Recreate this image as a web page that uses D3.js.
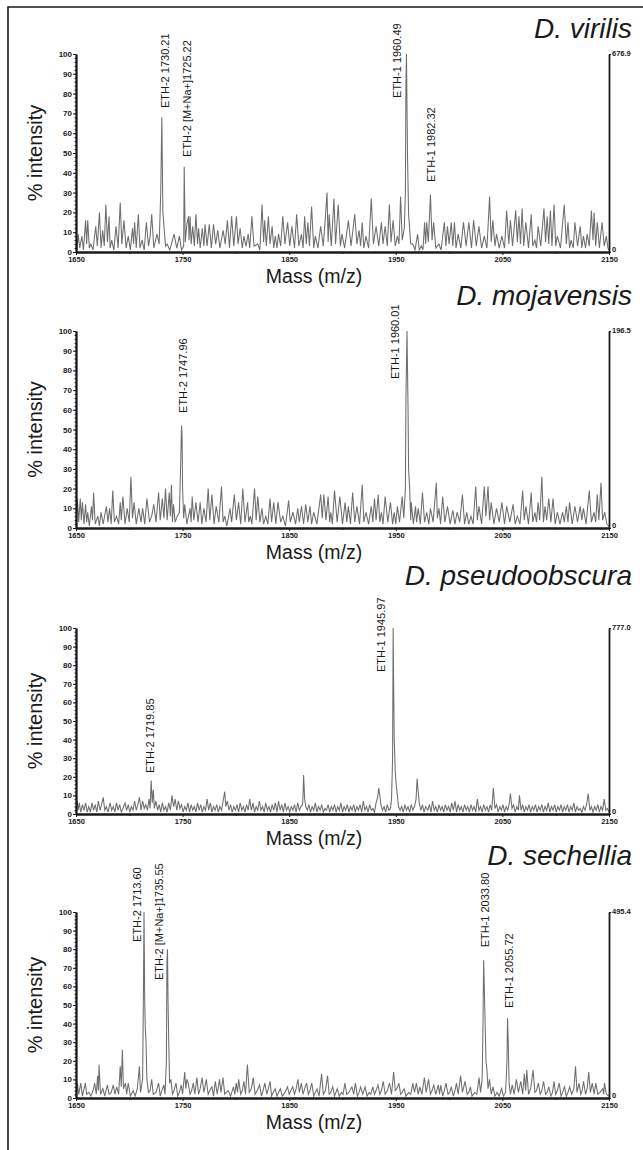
<!DOCTYPE html>
<html>
    <head>
        <meta charset="utf-8">
        <title>ETH spectra</title>
        <script src="https://d3js.org/d3.v7.min.js"></script>
        <style>
            body { margin: 0; background: white; }
        </style>
    </head>
    <body>
    <script type="text/javascript">
    //species names and base peak counts shown on the right axis
    var species = ["D. virilis", "D. mojavensis", "D. pseudoobscura", "D. sechellia"];
    var baseCounts = ["676.9", "196.5", "777.0", "495.4"];
    var massTicks = [1650, 1750, 1850, 1950, 2050, 2150];
    var massMinor = [1700, 1800, 1900, 2000, 2100];
    var pctTicks = [0, 10, 20, 30, 40, 50, 60, 70, 80, 90, 100];

    //spectra, [m/z, % intensity]
    var virilis = [[1650,3],[1651,1],[1652,9],[1653.5,2],[1655.5,8],[1657,1],[1659,16],[1660,4],[1661,16],[1662.5,2],[1664,4],[1666,1],[1668.5,13],[1670,3],[1672,20],[1673.5,2],[1675,11],[1676.5,3],[1678,24],[1679.5,5],[1681,18],[1682,2],[1683.5,6],[1685.5,1],[1687.5,13],[1689.5,2],[1691.5,25],[1693,4],[1695,16],[1697,2],[1699,8],[1701,1],[1703,12],[1704,4],[1705,15],[1706.5,2],[1708.5,19],[1710,2],[1712,6],[1714,1],[1716,15],[1718,3],[1719.5,8],[1721,19],[1723,2],[1726,9],[1728,4],[1729.5,30],[1730.5,68],[1731.5,20],[1732.5,13],[1734,3],[1735.5,4],[1738,1],[1740,5],[1742,9],[1744.5,2],[1747,8],[1749,1],[1751,3],[1751.5,43],[1752.5,5],[1754,14],[1755.5,18],[1756,6],[1757,18],[1758,4],[1759.5,13],[1761,3],[1762.5,19],[1764,4],[1765,12],[1766.5,2],[1768.5,12],[1770,3],[1771,14],[1773,3],[1775,14],[1777,2],[1779,14],[1781,4],[1783,11],[1785,2],[1788,11],[1790,4],[1792,16],[1794,2],[1796,18],[1798,3],[1800.5,18],[1802,4],[1804,12],[1806,2],[1807.5,8],[1809.5,3],[1811.5,9],[1813,2],[1815,18],[1817,3],[1820.5,4],[1822.5,1],[1824.5,24],[1826,5],[1827,16],[1828.5,3],[1830.5,18],[1832,4],[1834,13],[1835.5,2],[1837,8],[1838.5,2],[1840,9],[1842,3],[1844,18],[1846,4],[1848.5,15],[1850.5,3],[1852.5,13],[1855,2],[1857,19],[1859,3],[1861.5,9],[1863,2],[1864.5,18],[1866,4],[1867.5,15],[1869,3],[1871,23],[1873,2],[1874.5,8],[1877,2],[1879.5,13],[1882,3],[1885.5,30],[1886.5,5],[1887.5,19],[1889.5,3],[1892,27],[1893.5,4],[1896,24],[1898,3],[1899.5,9],[1902,2],[1905.5,16],[1908,3],[1911.5,19],[1913.5,4],[1915.5,11],[1917,3],[1918.5,15],[1920,2],[1922,8],[1924.5,2],[1927,27],[1929,4],[1931.5,13],[1934,3],[1936.5,15],[1938,4],[1940,13],[1942,3],[1944,24],[1945.5,5],[1947.5,16],[1949.5,3],[1951.5,8],[1953,4],[1954.5,28],[1956,6],[1958,12],[1959,30],[1959.5,85],[1960,100],[1961,48],[1962,19],[1964,4],[1966,4],[1968,1],[1970.5,9],[1972,1],[1974,3],[1975.5,1],[1977,15],[1978,4],[1979,15],[1980.5,5],[1982.5,29],[1984,6],[1985.5,15],[1987.5,2],[1990.5,4],[1992.5,1],[1995.5,15],[1997,3],[1998.5,13],[2000,4],[2002,15],[2003.5,3],[2005,15],[2006.5,2],[2008.5,9],[2011,2],[2013.5,15],[2016,3],[2018.5,15],[2021,2],[2023,16],[2025.5,3],[2028,13],[2030.5,2],[2033,8],[2035.5,2],[2038,28],[2039.5,5],[2041,16],[2043,3],[2044.5,9],[2047,2],[2049.5,8],[2052,2],[2054,21],[2056,4],[2057.5,16],[2059.5,3],[2062.5,21],[2064,5],[2065.5,18],[2067,4],[2068.5,22],[2070,3],[2072,15],[2074.5,2],[2077,19],[2078.5,3],[2080.5,6],[2082,2],[2083.5,13],[2086,3],[2089,22],[2090.5,5],[2092,18],[2093.5,4],[2095,21],[2096.5,3],[2098.5,24],[2100,3],[2101.5,8],[2104.5,2],[2108,24],[2110,4],[2111.5,15],[2113,2],[2114.5,6],[2116.5,2],[2118,15],[2120.5,3],[2123,13],[2124.5,2],[2126,8],[2128,2],[2129.5,9],[2131.5,3],[2133.5,21],[2135,6],[2136,20],[2137.5,3],[2139,15],[2141,2],[2143.5,15],[2145.5,3],[2147.5,8],[2149,2],[2150,1]];

    var mojavensis = [[1650,2],[1651.3,15],[1652.5,3],[1654,15],[1655,4],[1656,13],[1657.5,2],[1659,12],[1660,3],[1661,8],[1662.5,1],[1664.5,11],[1665.5,4],[1666.5,18],[1668,2],[1670.5,6],[1672,1],[1673.5,8],[1675.5,2],[1678.5,11],[1680,3],[1681.5,10],[1683,2],[1684.5,19],[1686,3],[1688,6],[1690,2],[1691.5,13],[1692.5,4],[1694,16],[1696,2],[1698,10],[1700,3],[1701.5,26],[1703,5],[1704.5,13],[1706.5,2],[1709,10],[1711,3],[1712.5,10],[1714.5,2],[1716.5,15],[1719,3],[1721,6],[1723,12],[1725,3],[1727.5,18],[1729,4],[1731,15],[1732.5,5],[1734,20],[1735.5,4],[1737.5,18],[1738.5,6],[1739.5,22],[1740.5,3],[1741.5,12],[1743,3],[1745,6],[1747,8],[1748,28],[1749,52],[1749.5,47],[1750,20],[1751,5],[1752,12],[1754,2],[1757,10],[1758,3],[1759,16],[1760.5,4],[1762.5,13],[1764.5,3],[1766.5,13],[1768,2],[1770,10],[1772,3],[1774,20],[1775.5,4],[1777.5,17],[1779.5,2],[1781.5,11],[1784,3],[1786.5,21],[1788,3],[1789.5,6],[1791.5,1],[1794.5,10],[1796,3],[1798.5,17],[1800.5,4],[1802.5,13],[1804.5,2],[1806.5,20],[1808.5,3],[1811,13],[1812,3],[1813.5,6],[1815,2],[1817.5,20],[1819,4],[1820.5,16],[1822.5,3],[1824.5,10],[1826,2],[1828,6],[1830,2],[1832,15],[1833.5,3],[1835.5,13],[1837.5,2],[1839.5,13],[1842,3],[1844,6],[1846.5,1],[1849.5,14],[1851,3],[1853.5,8],[1856,2],[1858,10],[1859.5,3],[1861.5,11],[1863.5,2],[1865.5,12],[1867.5,3],[1869.5,11],[1871,2],[1873,8],[1876,2],[1879.5,17],[1881,5],[1882.5,17],[1884.5,4],[1886.5,16],[1888,3],[1889,8],[1890.5,2],[1892.5,19],[1895,3],[1897.5,16],[1900,2],[1902.5,13],[1904,3],[1905.5,11],[1907.5,2],[1909.5,18],[1911.5,3],[1913.5,11],[1916,2],[1918.5,22],[1920,3],[1922,8],[1924.5,2],[1927,11],[1928.5,3],[1930,15],[1931.5,4],[1933.5,17],[1935,3],[1936.5,8],[1938,2],[1940,16],[1942.5,3],[1945,13],[1947,2],[1948.5,8],[1950,2],[1951.5,11],[1953.5,3],[1956,16],[1957.5,5],[1959,20],[1959.5,65],[1960.5,100],[1961.5,60],[1962,30],[1963,20],[1964,4],[1964.5,13],[1966.5,2],[1968.5,11],[1969.5,3],[1971,10],[1973,2],[1975,18],[1977,3],[1979,8],[1981,2],[1982.5,10],[1985,3],[1988,23],[1989,5],[1990.5,10],[1992,2],[1994,16],[1996,3],[1998.5,11],[2001,2],[2003.5,9],[2005.5,2],[2007.5,8],[2010,3],[2012.5,17],[2014.5,2],[2016.5,8],[2018.5,2],[2020.5,6],[2022.5,2],[2025,21],[2026.5,4],[2028,11],[2030.5,2],[2033,21],[2034.5,6],[2036.5,21],[2038,4],[2039.5,13],[2042,2],[2044.5,10],[2047,3],[2049.5,13],[2052,2],[2054,11],[2057,3],[2060,12],[2062,2],[2064,6],[2066.5,2],[2069,19],[2070.5,4],[2072,11],[2074.5,2],[2077,18],[2078.5,3],[2080.5,8],[2082,3],[2083.5,13],[2085,4],[2087,26],[2088.5,3],[2090,11],[2091.5,4],[2093.5,15],[2095.5,3],[2097.5,15],[2099.5,2],[2101.5,8],[2104,2],[2106.5,8],[2108,3],[2110,11],[2111.5,3],[2113,13],[2115.5,2],[2118,11],[2120.5,3],[2123,11],[2124.5,4],[2126,10],[2128.5,2],[2131.5,19],[2133.5,3],[2136,8],[2137.5,3],[2139,17],[2140.5,4],[2142.5,23],[2144,4],[2146,8],[2148,2],[2150,1]];

    var pseudoobscura = [[1650,1],[1651,7],[1652,2],[1653,6],[1654.5,1],[1656,5],[1657.5,2],[1659,6],[1660.5,1],[1662,4],[1663.5,1],[1665,6],[1666.5,2],[1668,5],[1669.5,1],[1671,7],[1672.5,2],[1674,5],[1675.5,9],[1677,2],[1678.5,4],[1680,1],[1682,6],[1683.5,2],[1685,4],[1686.5,1],[1688,6],[1689.5,2],[1691,5],[1692.5,1],[1694,3],[1696,6],[1697.5,2],[1699,5],[1700.5,1],[1702,4],[1703.5,2],[1705,7],[1706.5,2],[1708,5],[1709.5,9],[1711,2],[1712.5,7],[1714,3],[1715.5,5],[1717,2],[1718.5,8],[1719.5,3],[1720.5,18],[1721.5,6],[1722.5,13],[1723.5,3],[1725,7],[1726.5,2],[1728,5],[1729.5,1],[1731,6],[1732.5,2],[1734,4],[1735.5,1],[1737,6],[1738.5,2],[1740,10],[1741.5,4],[1743,8],[1744.5,2],[1746,7],[1747.5,3],[1749,5],[1750.5,1],[1752,4],[1753.5,2],[1755,6],[1756.5,1],[1758,5],[1759.5,2],[1761,4],[1762.5,1],[1764,6],[1765.5,2],[1767,5],[1768.5,1],[1770,4],[1771.5,2],[1773,8],[1774.5,2],[1776,6],[1777.5,1],[1779,4],[1780.5,2],[1782,5],[1783.5,1],[1785,4],[1786.5,2],[1788,7],[1789.5,12],[1790.5,4],[1792,7],[1793.5,2],[1795,5],[1796.5,1],[1798,4],[1799.5,2],[1801,5],[1802.5,1],[1804,6],[1805.5,2],[1807,4],[1808.5,1],[1810,5],[1811.5,2],[1813,8],[1814.5,2],[1816,6],[1817.5,1],[1819,4],[1820.5,2],[1822,7],[1823.5,2],[1825,4],[1826.5,1],[1828,6],[1829.5,2],[1831,4],[1832.5,1],[1834,5],[1835.5,2],[1837,6],[1838.5,1],[1840,7],[1841.5,2],[1843,5],[1844.5,1],[1846,6],[1847.5,2],[1849,4],[1850.5,1],[1852,4],[1853.5,2],[1855,5],[1856.5,1],[1858,6],[1859.5,2],[1861,4],[1862.5,5],[1863,10],[1863.5,21],[1864.5,8],[1865.5,4],[1867,2],[1868.5,5],[1870,1],[1871.5,4],[1873,2],[1874.5,6],[1876,1],[1877.5,4],[1879,2],[1880.5,5],[1882,1],[1883.5,3],[1885,2],[1886.5,5],[1888,1],[1889.5,4],[1891,2],[1892.5,5],[1894,1],[1895.5,4],[1897,2],[1898.5,6],[1900,1],[1901.5,4],[1903,2],[1904.5,5],[1906,1],[1907.5,4],[1909,2],[1910.5,5],[1912,1],[1913.5,4],[1915,2],[1916.5,5],[1918,1],[1919.5,7],[1921,2],[1922.5,4],[1924,1],[1925.5,5],[1927,2],[1928.5,3],[1930,1],[1931.5,6],[1933,9],[1934,14],[1935,10],[1936,5],[1937.5,2],[1939,4],[1940.5,1],[1942,5],[1943.5,2],[1945,3],[1946,8],[1947,30],[1947.5,100],[1948,68],[1948.5,40],[1949.5,23],[1950.5,15],[1951.5,10],[1952.5,4],[1954,2],[1955.5,4],[1957,1],[1958.5,5],[1960,2],[1961.5,4],[1963,1],[1964.5,5],[1966,2],[1967.5,4],[1969,8],[1970,19],[1971,12],[1972,6],[1973.5,2],[1975,5],[1976.5,1],[1978,4],[1980,2],[1981.5,5],[1983,1],[1984.5,7],[1986,2],[1987.5,4],[1989,1],[1990.5,5],[1992,2],[1993.5,4],[1995,1],[1996.5,5],[1998,2],[1999.5,4],[2001,1],[2002.5,6],[2004,2],[2005.5,7],[2007,1],[2008.5,5],[2010,2],[2011.5,4],[2013,1],[2014.5,5],[2016,2],[2017.5,4],[2019,1],[2020.5,5],[2022,2],[2023.5,4],[2025,1],[2026.5,8],[2028,2],[2029.5,4],[2031,1],[2032.5,5],[2034,2],[2035.5,4],[2037,1],[2038.5,5],[2040,2],[2041.5,14],[2043,3],[2044.5,5],[2046,1],[2047.5,4],[2049,2],[2050.5,5],[2052,1],[2053.5,4],[2055,2],[2056.5,6],[2057.5,11],[2059,3],[2060.5,5],[2062,1],[2063.5,4],[2065,2],[2066,10],[2067.5,2],[2069,5],[2070.5,1],[2072,4],[2073.5,2],[2075,5],[2076.5,1],[2078,4],[2079.5,2],[2081,5],[2082.5,1],[2084,4],[2085.5,2],[2087,5],[2088.5,1],[2090,4],[2091.5,2],[2093,6],[2094.5,1],[2096,4],[2097.5,2],[2099,5],[2100.5,1],[2102,4],[2103.5,2],[2105,5],[2106.5,1],[2108,4],[2109.5,2],[2111,5],[2112.5,1],[2114,4],[2115.5,2],[2117,6],[2118.5,1],[2120,4],[2121.5,2],[2123,3],[2124.5,1],[2126,4],[2127.5,2],[2129,5],[2130.5,11],[2132,2],[2133.5,4],[2135,1],[2136.5,4],[2138,2],[2139.5,5],[2141,1],[2142.5,4],[2144,2],[2145.5,8],[2147,2],[2148.5,3],[2150,1]];

    var sechellia = [[1650,1],[1651.3,8],[1652.5,2],[1654.5,8],[1656,1],[1658.8,8],[1660,2],[1662,3],[1664,1],[1666,4],[1667.5,8],[1669,2],[1670.3,12],[1671,4],[1671.6,18],[1673,2],[1675.2,5],[1677,1],[1679.4,7],[1681,2],[1683,3],[1685,7],[1686.5,2],[1688.2,6],[1690,2],[1691.5,17],[1692.5,6],[1693.5,26],[1694.5,5],[1696.4,8],[1697.5,2],[1699,8],[1701,1],[1703.6,4],[1705.5,1],[1707.5,5],[1709.5,17],[1710.5,3],[1712.5,10],[1713.3,60],[1713.8,100],[1714.5,50],[1715,38],[1715.7,30],[1716.5,10],[1718,3],[1719.5,4],[1721,10],[1722.5,2],[1725,3],[1727.5,8],[1729,1],[1730.5,4],[1732.4,7],[1733.5,2],[1734.8,20],[1735.3,73],[1735.8,80],[1736.4,50],[1737,30],[1737.8,8],[1739,10],[1740.5,2],[1742,4],[1743.8,8],[1745.5,1],[1747,3],[1748.7,7],[1750,2],[1752,14],[1753,5],[1754,10],[1755.2,8],[1757,2],[1758.5,4],[1760,8],[1761.5,2],[1763.4,11],[1765,2],[1766.5,5],[1768.3,11],[1770,3],[1772.2,10],[1774,2],[1775.5,4],[1777.5,6],[1779,1],[1780.7,9],[1782.5,2],[1784.6,10],[1786,3],[1787.9,11],[1789.5,2],[1791,3],[1792.8,4],[1795,1],[1797.7,6],[1799,2],[1800.3,8],[1801.5,3],[1802.6,10],[1804.5,2],[1806,4],[1807.5,9],[1809,2],[1810.8,18],[1812.5,3],[1814.5,5],[1816.3,11],[1818,2],[1820,4],[1822.2,7],[1824,1],[1825.5,4],[1827.1,8],[1829,2],[1830.5,5],[1832,9],[1833.5,1],[1835,3],[1836.9,5],[1838.5,1],[1840,3],[1841.8,5],[1843.5,1],[1846,3],[1848.4,6],[1850,2],[1851.5,4],[1853.3,6],[1855,2],[1856.5,5],[1858.2,10],[1859.5,3],[1861.4,8],[1863,2],[1864.5,5],[1866.3,8],[1868,2],[1869.5,4],[1871.2,8],[1873,1],[1874.5,3],[1876.1,5],[1878,1],[1880.4,13],[1882,2],[1884,4],[1886,12],[1887.5,2],[1889,3],[1890.8,6],[1892.5,1],[1895.1,5],[1897,1],[1899,3],[1900.5,2],[1902.3,8],[1904,2],[1906,3],[1908.8,6],[1910.5,2],[1912.1,8],[1914,1],[1915.5,3],[1917,6],[1919,2],[1921.2,6],[1923,1],[1925,3],[1926.5,2],[1928.4,6],[1930,2],[1931.5,4],[1933.3,7],[1935,2],[1936.5,4],[1938.2,9],[1940,2],[1942,4],[1944.1,8],[1946,2],[1948,14],[1949.5,4],[1951,5],[1952.9,8],[1954.5,2],[1956,3],[1957.8,5],[1959.5,1],[1962,3],[1964,2],[1966,8],[1967.5,3],[1969.3,8],[1971,2],[1972.5,6],[1974.5,2],[1976.8,11],[1978.5,3],[1980.7,10],[1982.5,2],[1984,4],[1985.6,7],[1987.5,2],[1989.9,7],[1991,2],[1992.2,7],[1994,1],[1995.5,4],[1997.1,8],[1999,2],[2000.5,3],[2002,6],[2004,1],[2005.5,4],[2006.9,8],[2008.5,2],[2010.8,12],[2012.5,3],[2015,9],[2017,2],[2018.5,3],[2019.9,6],[2021.5,1],[2024,3],[2026,2],[2028.1,11],[2029.5,3],[2031,10],[2031.8,40],[2032.4,74],[2033,60],[2033.8,40],[2034.6,20],[2035.5,15],[2036.5,5],[2037.9,10],[2039.5,2],[2041.2,6],[2043,1],[2045,3],[2047,1],[2049.3,5],[2051,1],[2053,3],[2054.3,20],[2054.8,43],[2055.5,30],[2056.3,8],[2057.5,2],[2059.2,7],[2061,2],[2063.1,10],[2065,3],[2067.3,9],[2069,2],[2070.6,13],[2071.8,4],[2072.9,15],[2074.5,2],[2076.5,5],[2078.8,15],[2080.5,3],[2082,4],[2083.7,8],[2085.5,2],[2087,4],[2088.6,9],[2090.5,2],[2092,3],[2093.5,6],[2095.5,1],[2097,3],[2098.4,9],[2100,2],[2101.5,4],[2103.3,8],[2105,1],[2106.5,3],[2108.2,6],[2110,1],[2111.5,3],[2113.1,6],[2115,2],[2117,5],[2118.6,17],[2120,3],[2121.9,8],[2123.5,2],[2124.8,4],[2126.1,9],[2128,2],[2129.5,5],[2131,14],[2132.5,3],[2134.3,8],[2136,2],[2137.6,8],[2139.5,2],[2141.5,3],[2144.1,5],[2145,2],[2145.8,8],[2147.5,2],[2150,1]];

    //peak annotations: [text, m/z of text centre, % intensity where text starts]
    var virilisPeaks = [["ETH-2 1730.21", 1733.5, 72.7], ["ETH-2 [M+Na+]1725.22", 1754, 48], ["ETH-1 1960.49", 1951, 77.8], ["ETH-1 1982.32", 1983, 35.4]];
    var mojavensisPeaks = [["ETH-2 1747.96", 1750.4, 58.4], ["ETH-1 1960.01", 1949, 75.6]];
    var pseudoobscuraPeaks = [["ETH-2 1719.85", 1719.4, 22], ["ETH-1 1945.97", 1936, 76.3]];
    var sechelliaPeaks = [["ETH-2 1713.60", 1707, 83.9], ["ETH-2 [M+Na+]1735.55", 1728, 63.4], ["ETH-1 2033.80", 2033.7, 81], ["ETH-1 2055.72", 2056, 48.4]];

    var spectra = [virilis, mojavensis, pseudoobscura, sechellia];
    var peaks = [virilisPeaks, mojavensisPeaks, pseudoobscuraPeaks, sechelliaPeaks];

    //layout
    var size = {width: 643, height: 1150};
    var plot = {left: 76, right: 609};
    var panelTop = [54, 331, 628, 912];
    var panelBottom = [252, 528, 814, 1098];
    var titleBase = [38, 305, 585, 865];
    var font = "'Liberation Sans', Arial, Helvetica, sans-serif";
    var ink = "#1a1a1a";

    var _svg = d3.select("body")
                 .append("svg")
                 .attr("width", size.width)
                 .attr("height", size.height)
                 .style("display", "block")
                 .attr("font-family", font);

    //figure frame (left and top edges only)
    _svg.append("path")
        .attr("d", "M 8 " + size.height + " L 8 7 L " + size.width + " 7")
        .attr("fill", "none")
        .attr("stroke", ink)
        .attr("stroke-width", 1.6);

    var x = d3.scaleLinear().domain([1650, 2150]).range([plot.left, plot.right]);

    species.forEach(function(name, i){ drawPanel(i); });

    function drawPanel(i){
        var y = d3.scaleLinear().domain([0, 100]).range([panelBottom[i], panelTop[i]]);
        var _g = _svg.append("g");

        //spectrum trace
        _g.append("path")
          .datum(spectra[i])
          .attr("d", d3.line().x(function(d){ return x(d[0]); }).y(function(d){ return y(d[1]); }))
          .attr("fill", "none")
          .attr("stroke", "#6e6e6e")
          .attr("stroke-width", 1.05)
          .attr("stroke-linejoin", "miter");

        //minor ticks, left axis
        _g.append("g")
          .attr("transform", "translate(" + plot.left + ",0)")
          .call(d3.axisLeft(y).tickValues(d3.range(0, 101, 2)).tickSize(1.5).tickSizeOuter(0).tickFormat(""))
          .call(styleAxis);

        //left axis
        _g.append("g")
          .attr("transform", "translate(" + plot.left + ",0)")
          .call(d3.axisLeft(y).tickValues(pctTicks).tickSize(3).tickSizeOuter(0).tickPadding(1))
          .call(styleAxis)
          .selectAll("text")
          .attr("font-size", 8)
          .attr("font-weight", "bold");

        //bottom axis
        _g.append("g")
          .attr("transform", "translate(0," + panelBottom[i] + ")")
          .call(d3.axisBottom(x).tickValues(massMinor).tickSize(2).tickSizeOuter(0).tickFormat(""))
          .call(styleAxis);

        _g.append("g")
          .attr("transform", "translate(0," + panelBottom[i] + ")")
          .call(d3.axisBottom(x).tickValues(massTicks).tickSize(3).tickSizeOuter(0).tickPadding(2)
                  .tickFormat(d3.format("d")))
          .call(styleAxis)
          .selectAll("text")
          .attr("font-size", 7.5)
          .attr("font-weight", "bold");

        //right axis with base peak counts
        _g.append("g")
          .attr("transform", "translate(" + plot.right + ",0)")
          .call(d3.axisRight(y).tickValues([0, 100]).tickSize(2).tickSizeOuter(0).tickPadding(1)
                  .tickFormat(function(d){ return d == 100 ? baseCounts[i] : "0"; }))
          .call(styleAxis)
          .selectAll("text")
          .attr("font-size", 7.5)
          .attr("font-weight", "bold")
          .attr("dy", function(d){ return d == 100 ? "0.2em" : "-0.1em"; });

        //peak annotations
        _g.append("g")
          .selectAll("text")
          .data(peaks[i])
          .enter()
          .append("text")
          .attr("transform", function(d){ return "translate(" + x(d[1]) + "," + y(d[2]) + ") rotate(-90)"; })
          .attr("dominant-baseline", "central")
          .attr("font-size", 11)
          .attr("fill", ink)
          .text(function(d){ return d[0]; });

        //species title
        _g.append("text")
          .attr("x", 632)
          .attr("y", titleBase[i])
          .attr("text-anchor", "end")
          .attr("font-size", 28)
          .attr("font-style", "italic")
          .attr("fill", ink)
          .text(species[i]);

        //axis titles
        _g.append("text")
          .attr("transform", "translate(35," + ((panelTop[i] + panelBottom[i]) / 2) + ") rotate(-90)")
          .attr("text-anchor", "middle")
          .attr("dominant-baseline", "central")
          .attr("font-size", 20)
          .attr("fill", ink)
          .text("% intensity");

        _g.append("text")
          .attr("x", 314)
          .attr("y", panelBottom[i] + 31)
          .attr("text-anchor", "middle")
          .attr("font-size", 19.5)
          .attr("fill", ink)
          .text("Mass (m/z)");
    }

    //shared look for all axes
    function styleAxis(sel){
        sel.attr("font-family", font);
        sel.select(".domain").attr("stroke", ink).attr("stroke-width", 1.8);
        sel.selectAll(".tick line").attr("stroke", ink).attr("stroke-width", 1);
        sel.selectAll(".tick text").attr("fill", ink);
    }
    </script>
    </body>
</html>
